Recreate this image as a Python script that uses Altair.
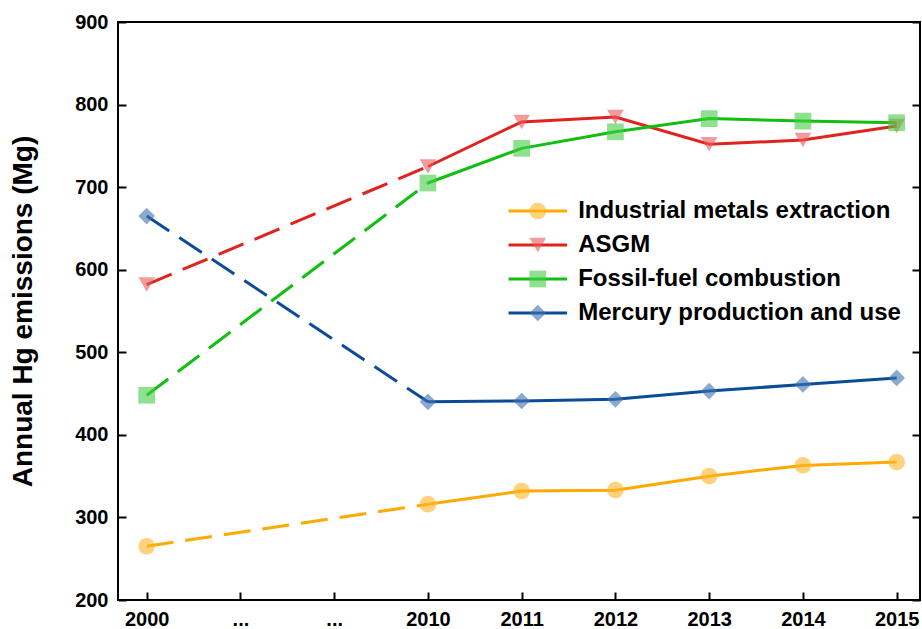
import json
import altair as alt
import pandas as pd

# ---- data ----
x_labels = ["2000", "...", "...", "2010", "2011", "2012", "2013", "2014", "2015"]
x_index = [0, 3, 4, 5, 6, 7, 8]
series_names = ["Industrial metals extraction", "ASGM", "Fossil-fuel combustion", "Mercury production and use"]
industrial = [265, 316, 332, 333, 350, 363, 367]
asgm = [582, 725, 779, 785, 752, 757, 774]
fossil = [448, 705, 747, 767, 783, 780, 778]
mercury = [665, 440, 441, 443, 453, 461, 469]

line_colors = ["#FFAA00", "#E0231C", "#12BE12", "#0B4C98"]
marker_colors = ["#FFB526", "#E85A5A", "#44CC44", "#3D72B0"]
shapes = ["circle", "triangle-down", "square", "diamond"]

rows = []
for name, vals in zip(series_names, [industrial, asgm, fossil, mercury]):
    for xi, v in zip(x_index, vals):
        rows.append({"series": name, "x": xi, "y": v})
df = pd.DataFrame(rows)

FONT = "Liberation Sans"
label_expr = json.dumps(x_labels) + "[datum.value]"
TICK = alt.ExprRef(expr="-8")
MSIZE = 280

x_enc = alt.X(
    "x:Q",
    scale=alt.Scale(domain=[-0.306, 8.249], nice=False, zero=False),
    axis=alt.Axis(values=list(range(len(x_labels))), labelExpr=label_expr, title=None,
                  tickSize=TICK, labelPadding=17, domain=False,
                  tickColor="black", tickWidth=2),
)
y_scale = alt.Scale(domain=[200, 900], nice=False, zero=False)

legend_common = dict(
    orient="none", legendX=407.8, legendY=177, title=None, padding=0,
    labelFontSize=24, labelFont=FONT, labelFontWeight="bold", labelColor="black",
    labelOffset=28.4, rowPadding=10, symbolSize=MSIZE, labelLimit=600,
)

base = alt.Chart(df)

# line colours: data-derived domain (kept apart from the marker legend)
stroke_scale = alt.Scale(range=line_colors)

dashed = base.transform_filter("datum.x <= 3").mark_line(
    strokeWidth=3, strokeDash=[27, 12], strokeCap="butt"
).encode(
    x=x_enc,
    y=alt.Y("y:Q", scale=y_scale,
            axis=alt.Axis(values=list(range(200, 901, 100)), title="Annual Hg emissions (Mg)",
                          tickSize=TICK, labelPadding=18, domain=False,
                          tickColor="black", tickWidth=2, titlePadding=37)),
    stroke=alt.Stroke("series:N", sort=series_names, scale=stroke_scale,
                      legend=alt.Legend(symbolType="M-3.5,0H3.5", symbolStrokeWidth=3,
                                        symbolFillColor="transparent", **legend_common)),
)

solid = base.transform_filter("datum.x >= 3").mark_line(strokeWidth=3).encode(
    x=x_enc,
    y=alt.Y("y:Q", scale=y_scale, axis=None),
    stroke=alt.Stroke("series:N", sort=series_names, scale=stroke_scale),
)

marker_legend = alt.Legend(symbolOpacity=0.6, symbolStrokeWidth=0, labelOpacity=0,
                           symbolStrokeColor="transparent", **legend_common)
points = base.mark_point(
    filled=True, size=MSIZE, opacity=0.6, strokeWidth=0
).encode(
    x=x_enc,
    y=alt.Y("y:Q", scale=y_scale,
            axis=alt.Axis(orient="right", values=list(range(200, 901, 100)), labels=False,
                          title=None, tickSize=TICK, domain=False,
                          tickColor="black", tickWidth=2)),
    color=alt.Color("series:N",
                    scale=alt.Scale(domain=series_names, range=marker_colors),
                    legend=marker_legend),
    shape=alt.Shape("series:N",
                    scale=alt.Scale(domain=series_names, range=shapes),
                    legend=marker_legend),
)

chart = alt.layer(dashed, solid, points).resolve_axis(y="independent").properties(
    width=802, height=578,
    autosize=alt.AutoSizeParams(type="none"),
    padding={"left": 118, "top": 22, "right": 2, "bottom": 29},
    background="white",
).configure_view(
    stroke="black", strokeWidth=2
).configure_axis(
    grid=False, labelFont=FONT, labelFontSize=20, labelFontWeight="bold", labelColor="black",
    titleFont=FONT, titleFontSize=28, titleFontWeight="bold", titleColor="black",
)

chart.save("out.html", embed_options={"renderer": "svg", "actions": False})
